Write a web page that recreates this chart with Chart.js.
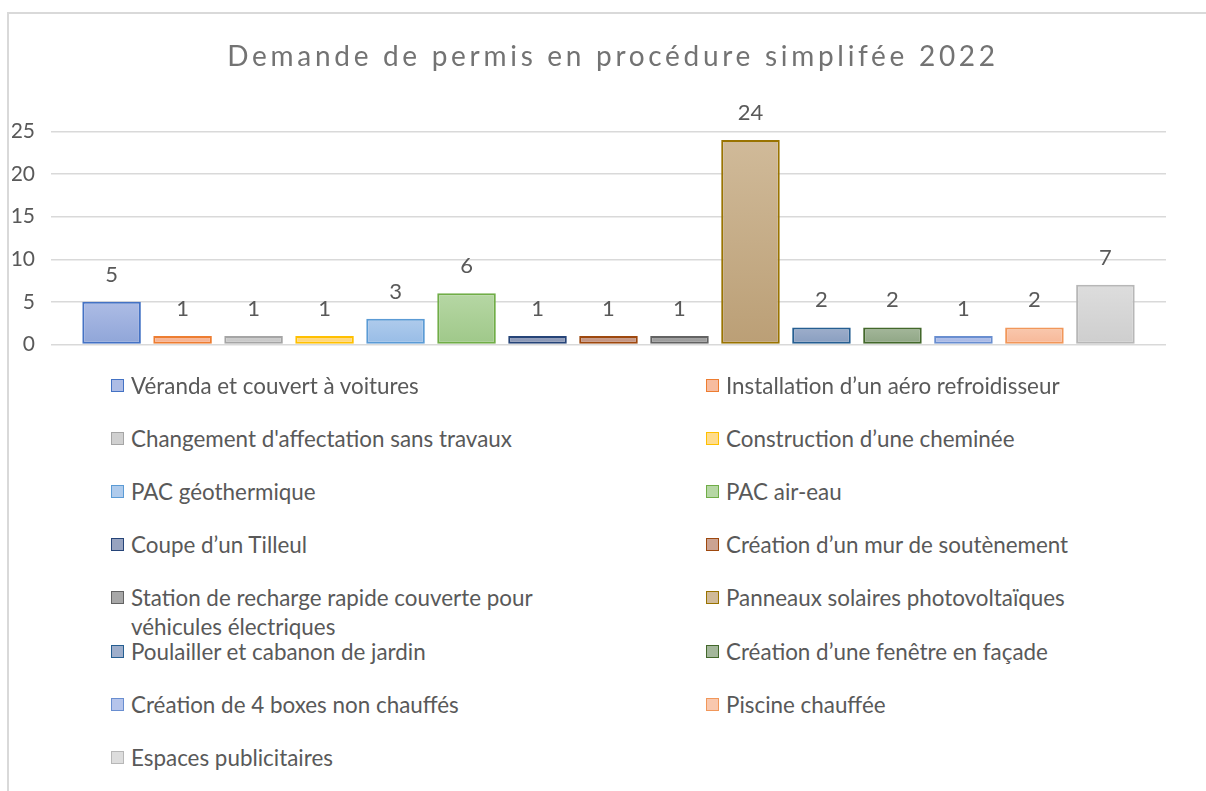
<!DOCTYPE html>
<html>
<head>
<meta charset="utf-8">
<script src="https://cdn.jsdelivr.net/npm/chart.js@4/dist/chart.umd.min.js"></script>
<style>
  html, body { margin: 0; padding: 0; background: #fff; }
  body { width: 1206px; height: 791px; position: relative; overflow: hidden; font-family: Lato, sans-serif; }
  #frame { position: absolute; left: 7px; top: 12px; width: 1400px; height: 1000px;
           border-left: 2px solid #d9d9d9; border-top: 2px solid #d9d9d9; }
  #wrap { position: absolute; left: 0; top: 0; width: 1206px; height: 373px; }
  #legend { position: absolute; left: 0; top: 0; }
  .item { position: absolute; color: #595959; font-size: 22.4px; line-height: 29px; }
  .item .box { position: absolute; left: 0; top: 8px; width: 11px; height: 11px; border: 1.5px solid; }
  .item .txt { position: absolute; left: 20px; top: 0; width: 470px; white-space: normal; }
</style>
</head>
<body>
<div id="frame"></div>
<div id="wrap"><canvas id="permitChart"></canvas></div>
<div id="legend"></div>
<script>
const title = 'Demande de permis en procédure simplifée 2022';

const categories = [
  'Véranda et couvert à voitures',
  'Installation d\u2019un aéro refroidisseur',
  'Changement d\'affectation sans travaux',
  'Construction d\u2019une cheminée',
  'PAC géothermique',
  'PAC air-eau',
  'Coupe d\u2019un Tilleul',
  'Création d\u2019un mur de soutènement',
  'Station de recharge rapide couverte pour véhicules électriques',
  'Panneaux solaires photovoltaïques',
  'Poulailler et cabanon de jardin',
  'Création d\u2019une fenêtre en façade',
  'Création de 4 boxes non chauffés',
  'Piscine chauffée',
  'Espaces publicitaires'
];

const values = [5, 1, 1, 1, 3, 6, 1, 1, 1, 24, 2, 2, 1, 2, 7];

const fillTop = ['#adbce5', '#f7bc9f', '#d0d0d0', '#ffdc8c', '#afcbec', '#b6d7a4', '#97a3c0', '#cba392', '#a7a7a7',
                 '#d0ba99', '#9eaecb', '#a4b79b', '#b5c4eb', '#f9c8ae', '#dddddd'];
const fillBottom = ['#8fa5d8', '#f4ad8a', '#c3c3c3', '#ffd26e', '#97bce6', '#9fc889', '#8491b0', '#bf8c78', '#959595',
                    '#bb9f76', '#879dbf', '#8ea583', '#a2b3e2', '#f7b797', '#cecece'];
const borderColors = ['#4472c4', '#ed7d31', '#a5a5a5', '#ffc000', '#5b9bd5', '#70ad47', '#264478', '#9e480e', '#636363',
                      '#997300', '#255e91', '#43682b', '#698ed0', '#f1975a', '#b7b7b7'];

const yMin = 0;
const yMax = 25;
const yStep = 5;

document.addEventListener('DOMContentLoaded', () => {
    const ctx = document.getElementById('permitChart').getContext('2d');

    // gradient per bar, from the top of the bar to the baseline
    const barGradient = (i) => (context) => {
        const chart = context.chart;
        const y = chart.scales && chart.scales.y;
        if (!chart.chartArea || !y) return fillTop[i];
        const top = y.getPixelForValue(values[i]);
        const bottom = y.getPixelForValue(0);
        const g = chart.ctx.createLinearGradient(0, top, 0, bottom);
        g.addColorStop(0, fillTop[i]);
        g.addColorStop(1, fillBottom[i]);
        return g;
    };

    const datasets = categories.map((name, i) => ({
        label: name,
        data: [values[i]],
        backgroundColor: barGradient(i),
        borderColor: borderColors[i],
        borderWidth: 2,
        borderSkipped: false,
        categoryPercentage: 0.955,
        barPercentage: 0.825
    }));

    // value labels above the bars
    const valueLabels = {
        id: 'valueLabels',
        afterDatasetsDraw(chart) {
            const c = chart.ctx;
            c.save();
            c.fillStyle = '#595959';
            c.font = '22px Lato';
            c.textAlign = 'center';
            c.textBaseline = 'middle';
            chart.data.datasets.forEach((ds, i) => {
                const meta = chart.getDatasetMeta(i);
                meta.data.forEach((bar, j) => {
                    c.fillText(String(ds.data[j]), bar.x, bar.y - 27);
                });
            });
            c.restore();
        }
    };

    const chart = new Chart(ctx, {
        type: 'bar',
        data: { labels: [''], datasets },
        plugins: [valueLabels],
        options: {
            responsive: true,
            maintainAspectRatio: false,
            animation: false,
            layout: { padding: { left: 12, right: 40, top: 0, bottom: 3 } },
            scales: {
                x: { display: false },
                y: {
                    min: yMin,
                    max: yMax,
                    ticks: { stepSize: yStep, padding: 16, color: '#595959', font: { family: 'Lato', size: 21 } },
                    grid: { color: '#d9d9d9', lineWidth: 1.5, drawTicks: false },
                    border: { display: false },
                    afterFit(scale) { scale.width = 39; }
                }
            },
            plugins: {
                legend: { display: false },
                tooltip: { enabled: false },
                title: {
                    display: true,
                    text: title,
                    color: '#737373',
                    font: { family: 'Lato', size: 28, weight: 'normal', lineHeight: 1.2 },
                    padding: { top: 40, bottom: 58 }
                }
            }
        }
    });

    // the title is letter-spaced and centred on the whole frame in the original
    const drawTitle = chart.titleBlock.draw.bind(chart.titleBlock);
    chart.titleBlock.draw = function (area) {
        const c = this.ctx;
        c.save();
        c.translate(24, 0);
        c.letterSpacing = '3.7px';
        drawTitle(area);
        c.letterSpacing = '0px';
        c.restore();
    };
    chart.draw();

    // legend in two columns below the plot
    const legend = document.getElementById('legend');
    const labels = Chart.defaults.plugins.legend.labels.generateLabels(chart);
    labels.forEach((item, i) => {
        const row = Math.floor(i / 2);
        const col = i % 2;
        const el = document.createElement('div');
        el.className = 'item';
        el.style.left = (col === 0 ? 111 : 706) + 'px';
        el.style.top = (385 + row * 53.2 - 14.5) + 'px';
        el.innerHTML = `<span class="box" style="background:${fillTop[item.datasetIndex]};border-color:${borderColors[item.datasetIndex]}"></span>` +
                       `<span class="txt">${item.text}</span>`;
        legend.appendChild(el);
    });
});
</script>
</body>
</html>
